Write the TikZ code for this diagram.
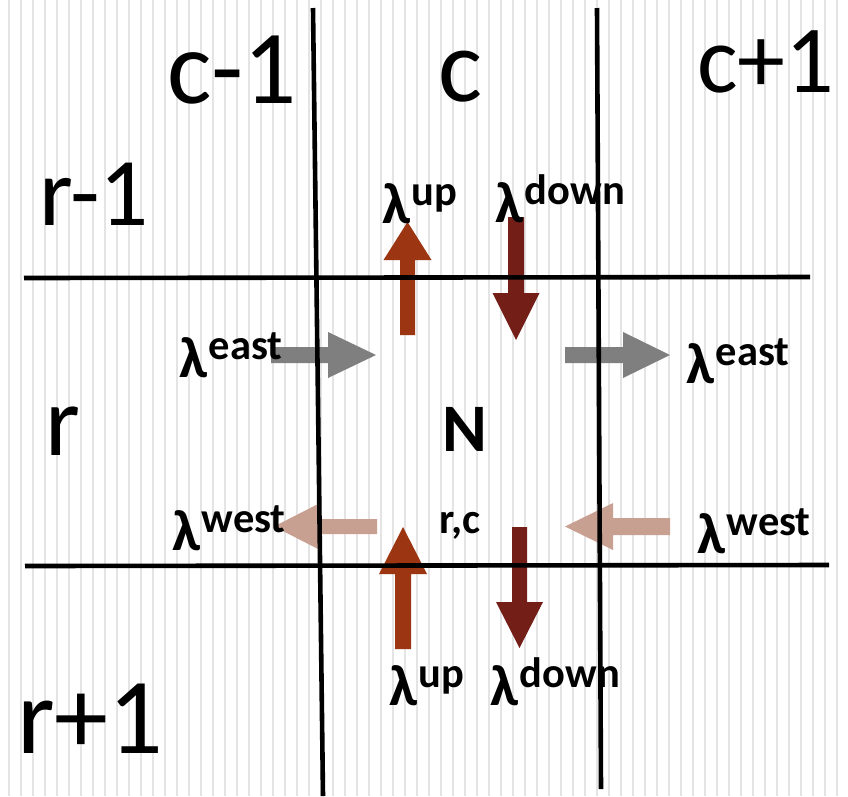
\documentclass[tikz,border=0pt]{standalone}
\usepackage{fontspec}
\setmainfont{Carlito}
\usetikzlibrary{calc}
\definecolor{stripegray}{HTML}{E4E4E4}
\definecolor{rust}{HTML}{9C3612}
\definecolor{darkred}{HTML}{731F18}
\definecolor{arrgray}{HTML}{7F7F7F}
\definecolor{rose}{HTML}{C8A092}
\newcommand\lamsup[1]{{\fontsize{58}{60}\selectfont\bfseries λ}\kern1.5pt\raisebox{18pt}{\fontsize{42.5}{44}\selectfont\bfseries #1}}
\newcommand\blockarrow[6]{%
  \path ($(#3)!#6!(#2)$) coordinate (hb);
  \fill[#1] ($(#2)!#4!90:(#3)$) -- ($(hb)!#4!90:(#3)$) -- ($(hb)!#5!90:(#3)$) -- (#3)
     -- ($(hb)!#5!-90:(#3)$) -- ($(hb)!#4!-90:(#3)$) -- ($(#2)!#4!-90:(#3)$) -- cycle;
}
\tikzset{
  gridline/.style={line width=4.6pt, black},
  stripe/.style={fill=stripegray},
  lbl/.style={anchor=base west, inner sep=0pt, outer sep=0pt},
  bigl/.style={lbl, font=\fontsize{100}{104}\selectfont},
  laml/.style={lbl},
}
\begin{document}
\begin{tikzpicture}[x=1pt,y=-1pt]
\useasboundingbox (0,0) rectangle (848,796);
\fill[white] (0,0) rectangle (848,796);
\foreach \i in {0,...,69} \fill[stripe] ({8.3+12*\i},0) rectangle ++(2,796);

% arrow coordinates
\coordinate (uta) at (407.5,335); \coordinate (utb) at (407.5,222);
\coordinate (dta) at (516,217);   \coordinate (dtb) at (516,340);
\coordinate (ela) at (271,355);   \coordinate (elb) at (376,355);
\coordinate (era) at (565,355);   \coordinate (erb) at (670,355);
\coordinate (wla) at (377,526.5); \coordinate (wlb) at (274,526.5);
\coordinate (wra) at (670,526.5); \coordinate (wrb) at (565,526.5);
\coordinate (uba) at (403,649);   \coordinate (ubb) at (403,527);
\coordinate (dba) at (519.5,527); \coordinate (dbb) at (519.5,648);

\blockarrow{rust}{uta}{utb}{7.5pt}{24pt}{38pt}
\blockarrow{darkred}{dta}{dtb}{8pt}{23.5pt}{47pt}
\blockarrow{arrgray}{ela}{elb}{8pt}{23pt}{48pt}
\blockarrow{arrgray}{era}{erb}{8pt}{23pt}{47pt}
\blockarrow{rose}{wla}{wlb}{7.5pt}{23.5pt}{46pt}
\blockarrow{rose}{wra}{wrb}{8.5pt}{23.5pt}{48pt}
\blockarrow{rust}{uba}{ubb}{8pt}{24pt}{47pt}
\blockarrow{darkred}{dba}{dbb}{7.5pt}{23.5pt}{46pt}

% grid lines
\coordinate (v1a) at (313,8);  \coordinate (v1b) at (323,796);
\coordinate (v2a) at (597,8);  \coordinate (v2b) at (601,789);
\coordinate (h1a) at (24,278); \coordinate (h1b) at (810,277);
\coordinate (h2a) at (25,566); \coordinate (h2b) at (829,565);
\draw[gridline] (v1a) -- (v1b);
\draw[gridline] (v2a) -- (v2b);
\draw[gridline] (h1a) -- (h1b);
\draw[gridline] (h2a) -- (h2b);

% row / column labels
\node[bigl, font=\fontsize{105}{110}\selectfont] (cm) at (167,103) {c-1};
\node[bigl, font=\fontsize{104}{108}\selectfont] (cc) at (438,101) {c};
\node[bigl, font=\fontsize{96}{100}\selectfont] (cp) at (697,92) {c+1};
\node[bigl, font=\fontsize{97}{100}\selectfont] (rm) at (39,225) {r-1};
\node[bigl] (rr) at (45,455) {r};
\node[bigl, font=\fontsize{108}{112}\selectfont] (rp) at (17,753) {r+1};

% center labels
\node[lbl, font=\fontsize{68}{70}\selectfont\bfseries] (nn) at (442,451) {N};
\node[lbl, font=\fontsize{43}{45}\selectfont\bfseries] (rc) at (439,533) {r,c};

% lambda labels
\node[laml] (lut) at (382,223) {\lamsup{up}};
\node[laml] (ldt) at (495,222) {\lamsup{down}};
\node[laml] (lel) at (179,377) {\lamsup{east}};
\node[laml] (ler) at (686,383) {\lamsup{east}};
\node[laml] (lwl) at (172,550) {\lamsup{west}};
\node[laml] (lwr) at (697,553) {\lamsup{west}};
\node[laml] (lub) at (389,705) {\lamsup{up}};
\node[laml] (ldb) at (490,705) {\lamsup{down}};
\end{tikzpicture}
\end{document}
